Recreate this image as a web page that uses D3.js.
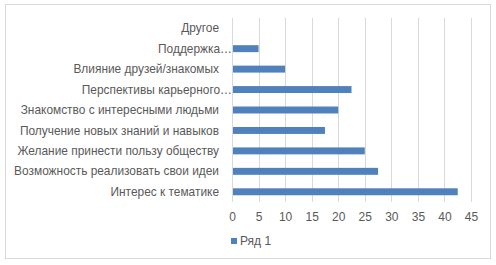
<!DOCTYPE html>
<html>
<head>
<meta charset="utf-8">
<script src="https://cdn.jsdelivr.net/npm/d3@7"></script>
<style>
  body { margin: 0; background: #fff; }
  text { font-family: "Liberation Sans", Arial, sans-serif; fill: #595959; }
</style>
</head>
<body>
<div id="chart"></div>
<script>
// categories top to bottom, as shown on the chart
var categories = [
  'Другое',
  'Поддержка…',
  'Влияние друзей/знакомых',
  'Перспективы карьерного…',
  'Знакомство с интересными людьми',
  'Получение новых знаний и навыков',
  'Желание принести пользу обществу',
  'Возможность реализовать свои идеи',
  'Интерес к тематике'
];
var values = [0, 5, 10, 22.5, 20, 17.5, 25, 27.5, 42.5];
var ticks = [0, 5, 10, 15, 20, 25, 30, 35, 40, 45];
var seriesName = 'Ряд 1';

var W = 496, H = 265;
var m = {left: 232, right: 25, top: 19, bottom: 63};

var svg = d3.select('#chart').append('svg')
  .attr('width', W)
  .attr('height', H);

svg.append('rect')
  .attr('x', 5.5).attr('y', 4.5)
  .attr('width', 485).attr('height', 254)
  .attr('fill', '#fff')
  .attr('stroke', '#d9d9d9');

var x = d3.scaleLinear().domain([0, 45]).range([m.left, m.left + 239]);
var y = d3.scaleBand().domain(categories)
  .range([m.top - 1, H - m.bottom])
  .paddingInner(0.66).paddingOuter(0.33);

// gridlines
svg.append('g').selectAll('line')
  .data(ticks.slice(1))
  .enter().append('line')
  .attr('x1', function(d){ return Math.round(x(d)) + 0.5; })
  .attr('x2', function(d){ return Math.round(x(d)) + 0.5; })
  .attr('y1', m.top - 1)
  .attr('y2', H - m.bottom)
  .attr('stroke', '#d9d9d9');

// bars
svg.append('g').selectAll('rect')
  .data(values)
  .enter().append('rect')
  .attr('x', x(0))
  .attr('y', function(d, i){ return y(categories[i]); })
  .attr('width', function(d){ return x(d) - x(0); })
  .attr('height', y.bandwidth())
  .attr('fill', '#4f81bd');

// vertical axis line
svg.append('line')
  .attr('x1', Math.round(x(0)) + 0.5).attr('x2', Math.round(x(0)) + 0.5)
  .attr('y1', m.top - 1).attr('y2', H - m.bottom)
  .attr('stroke', '#d9d9d9');

// category labels
svg.append('g').selectAll('text')
  .data(categories)
  .enter().append('text')
  .attr('x', function(d){ return /…$/.test(d) ? x(0) : x(0) - 13; })
  .attr('y', function(d){ return y(d) + y.bandwidth() / 2; })
  .attr('dy', '0.35em')
  .attr('text-anchor', 'end')
  .style('font-size', '11.9px')
  .text(function(d){ return d; });

// x axis
var xAxis = d3.axisBottom(x).tickValues(ticks).tickSize(0).tickPadding(10);
var gx = svg.append('g')
  .attr('transform', 'translate(0,' + (H - m.bottom) + ')')
  .call(xAxis);
gx.select('.domain').remove();
gx.selectAll('text')
  .style('font-size', '12px')
  .style('font-family', '"Liberation Sans", Arial, sans-serif')
  .attr('fill', '#595959');

// legend
svg.append('rect')
  .attr('x', 231).attr('y', 238)
  .attr('width', 6).attr('height', 6)
  .attr('fill', '#4f81bd');
svg.append('text')
  .attr('x', 240).attr('y', 241)
  .attr('dy', '0.35em')
  .style('font-size', '12px')
  .text(seriesName);
</script>
</body>
</html>
